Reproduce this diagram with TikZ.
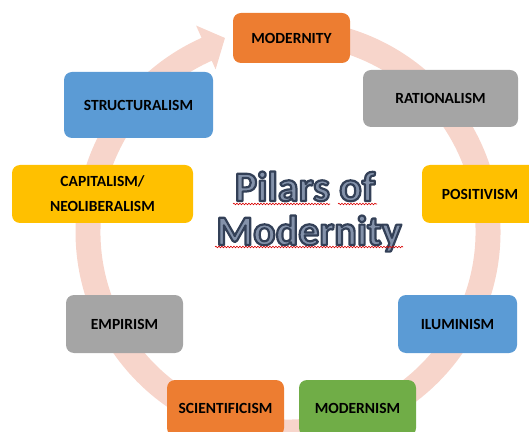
\documentclass[tikz,border=0pt]{standalone}
\usepackage{fontspec}
\setmainfont{Carlito}
\usetikzlibrary{decorations.pathmorphing}
\definecolor{ringc}{RGB}{247,213,203}
\definecolor{corange}{RGB}{237,125,49}
\definecolor{cgray}{RGB}{165,165,165}
\definecolor{cyellow}{RGB}{255,192,0}
\definecolor{cblue}{RGB}{91,155,213}
\definecolor{cgreen}{RGB}{112,173,71}
\definecolor{tmid}{RGB}{132,146,170}
\newcommand{\outlined}[1]{\special{pdf:literal direct 2 Tr 2.2 w 1 j 0.2 0.25 0.34 RG}#1\special{pdf:literal direct 0 Tr}}
\begin{document}
\begin{tikzpicture}[x=1pt,y=1pt,
  pbox/.style={rounded corners=8pt, inner sep=0pt, align=center,
    font=\fontsize{15.5}{25}\selectfont\bfseries, text=black},
  ttlfont/.style={font=\fontsize{42}{42}\selectfont\bfseries, anchor=base, inner sep=0pt},
  wavy/.style={draw=red!85!black, line width=0.6pt, decorate,
    decoration={snake, amplitude=0.8pt, segment length=3pt}}]
\useasboundingbox (0,0) rectangle (529,431);
\clip (0,0) rectangle (529,431);
\coordinate (C) at (288,199);
% ring arrow
\fill[ringc] ([shift={(95:212.5)}]C) arc[start angle=95,end angle=-246,radius=212.5]
  -- ([shift={(-246:226)}]C) -- ([shift={(-252:204)}]C) -- ([shift={(-246:178)}]C)
  -- ([shift={(-246:187.5)}]C) arc[start angle=-246,end angle=95,radius=187.5] -- cycle;
% boxes
\node[pbox, fill=corange, minimum width=117, minimum height=50] (modernity) at (291.5,393) {MODERNITY};
\node[pbox, fill=cgray, minimum width=155, minimum height=57] (rationalism) at (440.5,332.5) {RATIONALISM};
\node[pbox, fill=cyellow, minimum width=116, minimum height=58] (positivism) at (480,237) {POSITIVISM};
\node[pbox, fill=cblue, minimum width=119, minimum height=58] (iluminism) at (457.5,107) {ILUMINISM};
\node[pbox, fill=cgreen, minimum width=117, minimum height=56] (modernism) at (357.5,23) {MODERNISM};
\node[pbox, fill=corange, minimum width=117, minimum height=56] (scientificism) at (225.5,23) {SCIENTIFICISM};
\node[pbox, fill=cgray, minimum width=117, minimum height=58] (empirism) at (124.5,107) {EMPIRISM};
\node[pbox, fill=cyellow, minimum width=181, minimum height=58] (capitalism) at (102.5,237) {CAPITALISM/\\NEOLIBERALISM};
\node[pbox, fill=cblue, minimum width=149, minimum height=66] (structuralism) at (138.5,326) {STRUCTURALISM};
% title
\node[ttlfont, text=tmid] (title1) at (305,230) {\outlined{Pilars of}};
\node[ttlfont, text=tmid] (title2) at (309,186) {\outlined{Modernity}};
\draw[wavy] (233,227) -- (330,227);
\draw[wavy] (338,227) -- (377,227);
\draw[wavy] (215,184) -- (403,184);
\end{tikzpicture}
\end{document}
